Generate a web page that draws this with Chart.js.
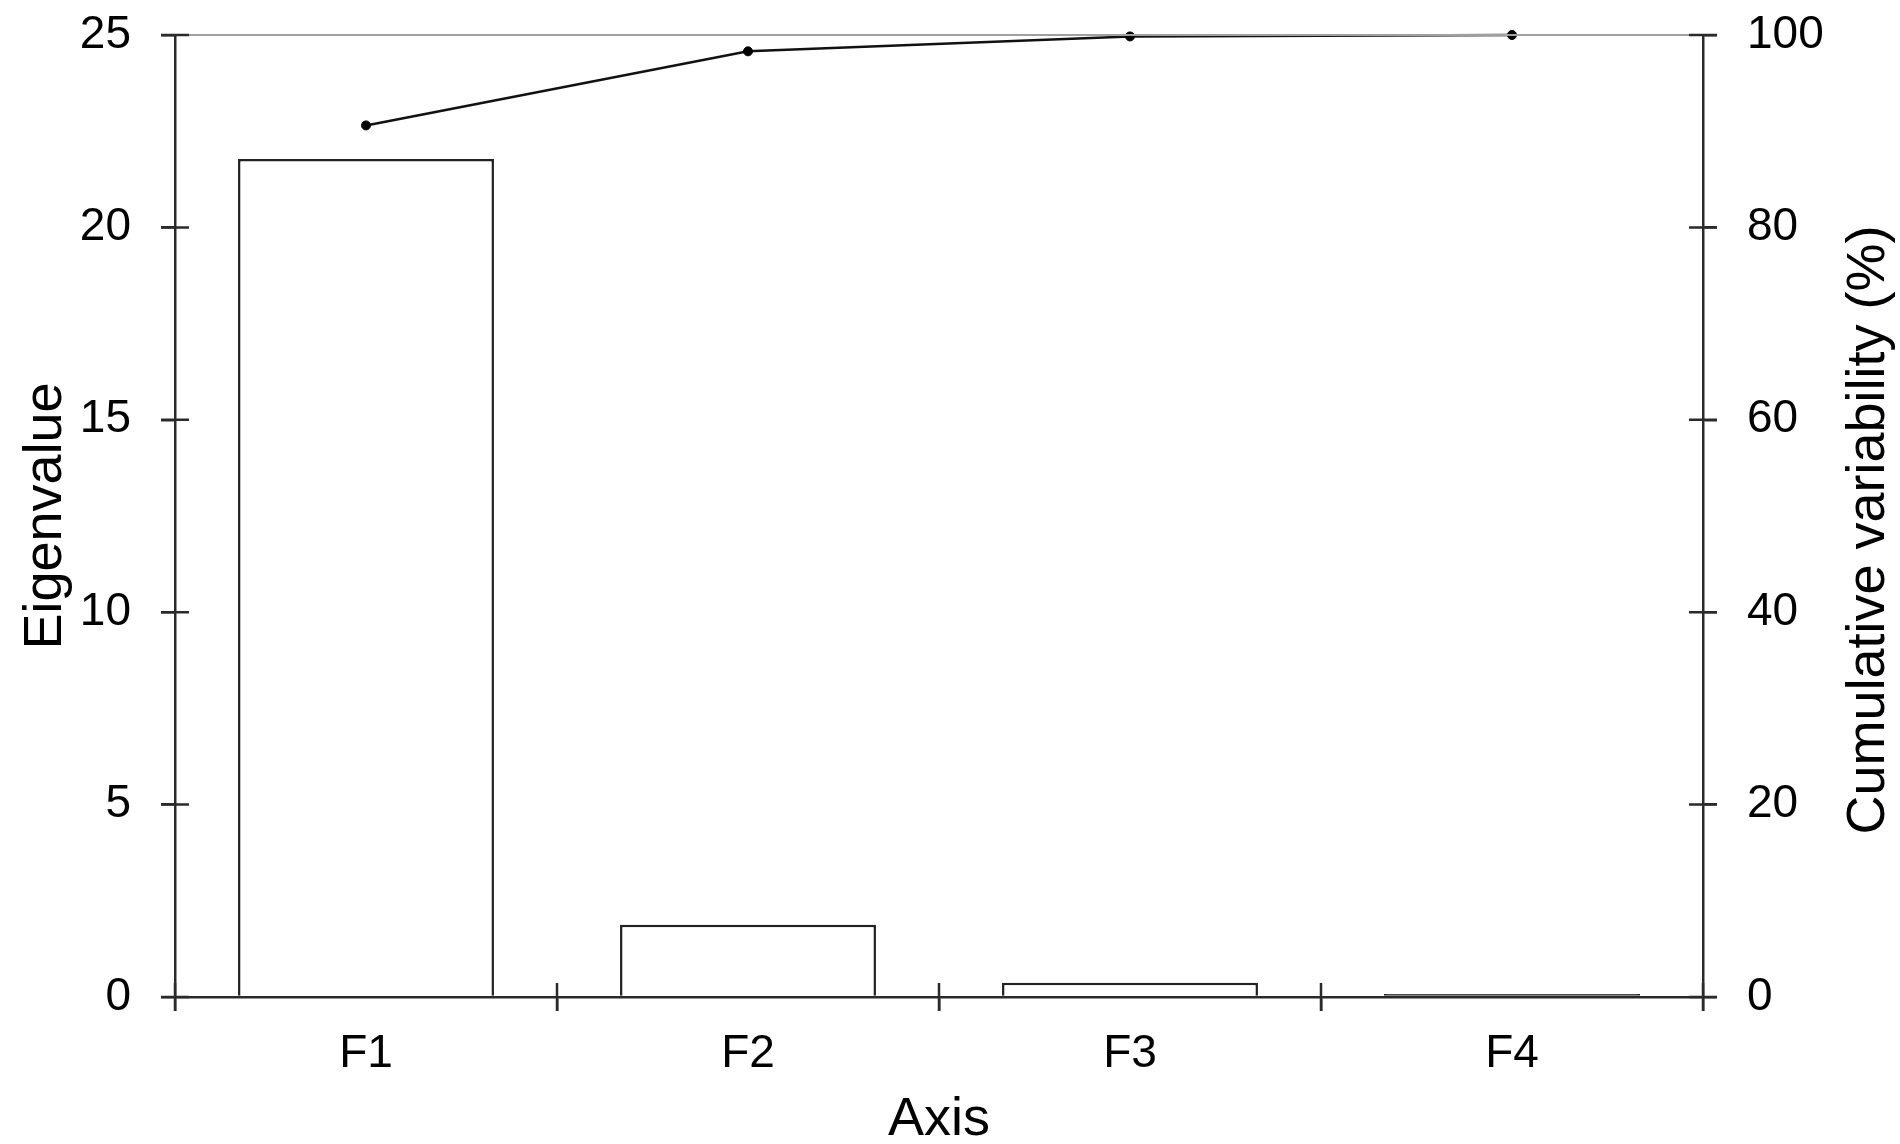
<!DOCTYPE html>
<html>
<head>
<meta charset="utf-8">
<title>Scree plot</title>
<script src="https://cdn.jsdelivr.net/npm/chart.js@4/dist/chart.umd.min.js"></script>
<style>
  html, body { margin: 0; padding: 0; background: #fff; }
  canvas { display: block; }
</style>
</head>
<body>
<canvas id="scree" width="1900" height="1144"></canvas>
<script>
const categories = ['F1', 'F2', 'F3', 'F4'];
const eigenvalues = [21.78, 1.88, 0.37, 0.08];
const cumulative = [90.6, 98.3, 99.85, 100];

const axisColor = '#2a2a2a';
const tickLen = 14;
const fontFamily = 'Liberation Sans, Arial, sans-serif';
const tickFont = { family: fontFamily, size: 46 };
const titleFont = { family: fontFamily, size: 54 };

// ticks in this chart cross the axis line, Chart.js only draws the outer half.
// the right title also reads bottom-to-top, which Chart.js won't do on a right axis
const extras = {
  id: 'extras',
  afterDraw(chart) {
    const ctx = chart.ctx;
    const area = chart.chartArea;
    ctx.save();
    // light top border
    ctx.strokeStyle = '#a0a0a0';
    ctx.lineWidth = 2;
    ctx.beginPath();
    ctx.moveTo(area.left, area.top);
    ctx.lineTo(area.right, area.top);
    ctx.stroke();

    ctx.strokeStyle = axisColor;
    ctx.lineWidth = 2.5;
    ctx.beginPath();
    const y = chart.scales.y;
    y.ticks.forEach((t, i) => {
      const py = y.getPixelForTick(i);
      ctx.moveTo(area.left - tickLen, py);
      ctx.lineTo(area.left + tickLen, py);
    });
    const y2 = chart.scales.y2;
    y2.ticks.forEach((t, i) => {
      const py = y2.getPixelForTick(i);
      ctx.moveTo(area.right - tickLen, py);
      ctx.lineTo(area.right + tickLen, py);
    });
    const x = chart.scales.x;
    const n = categories.length;
    for (let i = 0; i <= n; i++) {
      const px = x.getPixelForDecimal(i / n);
      ctx.moveTo(px, area.bottom - tickLen);
      ctx.lineTo(px, area.bottom + tickLen);
    }
    ctx.stroke();

    ctx.fillStyle = '#000';
    ctx.font = titleFont.size + 'px ' + fontFamily;
    ctx.textAlign = 'center';
    ctx.textBaseline = 'middle';
    ctx.translate(y2.right - 31, (area.top + area.bottom) / 2 + 14);
    ctx.rotate(-Math.PI / 2);
    ctx.fillText('Cumulative variability (%)', 0, 0);
    ctx.restore();
  }
};

// a bar thinner than its own outline just reads as a solid line
function barFill(c) {
  const y = c.chart.scales.y;
  if (!y || c.raw == null) return '#fff';
  const h = y.getPixelForValue(0) - y.getPixelForValue(c.raw);
  return h < 5 ? '#222' : '#fff';
}

new Chart(document.getElementById('scree'), {
  type: 'bar',
  data: {
    labels: categories,
    datasets: [
      {
        type: 'line',
        label: 'Cumulative variability (%)',
        data: cumulative,
        yAxisID: 'y2',
        borderColor: '#111',
        borderWidth: 2.5,
        pointRadius: 4.5,
        pointBackgroundColor: '#000',
        pointBorderColor: '#000',
        pointBorderWidth: 1,
        tension: 0,
        clip: false
      },
      {
        label: 'Eigenvalue',
        data: eigenvalues,
        yAxisID: 'y',
        backgroundColor: barFill,
        borderColor: '#222',
        borderWidth: 2.5,
        barPercentage: 0.67,
        categoryPercentage: 1.0
      }
    ]
  },
  options: {
    responsive: false,
    devicePixelRatio: 1,
    animation: false,
    layout: { padding: { top: 35, left: 0, right: 0, bottom: 0 } },
    plugins: {
      legend: { display: false },
      tooltip: { enabled: false }
    },
    scales: {
      x: {
        offset: true,
        grid: { offset: true, drawOnChartArea: false, tickLength: tickLen, color: axisColor, lineWidth: 2.5 },
        border: { color: axisColor, width: 2.5 },
        ticks: { color: '#000', font: tickFont, padding: 16 },
        title: { display: true, text: 'Axis', color: '#000', font: titleFont, padding: { top: 0, bottom: -9 } },
        afterFit(scale) { scale.height = 147; }
      },
      y: {
        position: 'left',
        min: 0,
        max: 25,
        ticks: { stepSize: 5, color: '#000', font: tickFont, padding: 30 },
        grid: { drawOnChartArea: false, tickLength: tickLen, color: axisColor, lineWidth: 2.5 },
        border: { color: axisColor, width: 2.5 },
        title: { display: true, text: 'Eigenvalue', color: '#000', font: titleFont, padding: { top: 14, bottom: 0 } },
        afterFit(scale) {
          scale.width = 175;
          scale.paddingTop = 0;
          scale.paddingBottom = 0;
        }
      },
      y2: {
        position: 'right',
        min: 0,
        max: 100,
        ticks: { stepSize: 20, color: '#000', font: tickFont, padding: 30 },
        grid: { drawOnChartArea: false, tickLength: tickLen, color: axisColor, lineWidth: 2.5 },
        border: { color: axisColor, width: 2.5 },
        title: { display: false },
        afterFit(scale) {
          scale.width = 197;
          scale.paddingTop = 0;
          scale.paddingBottom = 0;
        }
      }
    }
  },
  plugins: [extras]
});
</script>
</body>
</html>
